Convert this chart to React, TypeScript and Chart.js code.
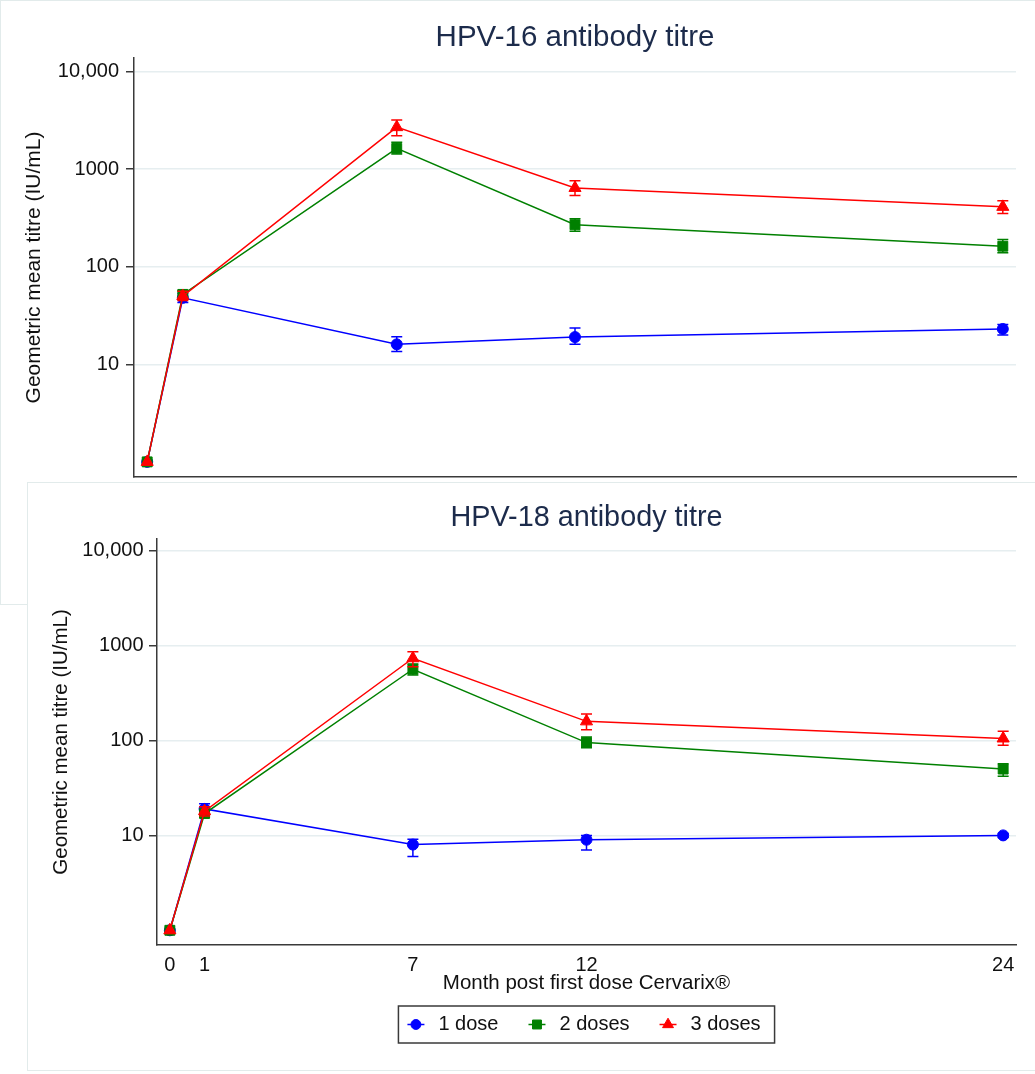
import React, { useEffect, useRef } from 'react';
import { Chart, registerables } from 'chart.js';

Chart.register(...registerables);

// ---------------- data ----------------
const months = [0, 1, 7, 12, 24];
const xTickValues = [0, 1, 7, 12, 24];
const yTickValues = [10, 100, 1000, 10000];
const yTickLabels = ['10', '100', '1000', '10,000'];
const seriesLabels = ['1 dose', '2 doses', '3 doses'];
const xAxisTitle = 'Month post first dose Cervarix®';
const yAxisTitle = 'Geometric mean titre (IU/mL)';

// HPV-16
const hpv16Title = 'HPV-16 antibody titre';
const hpv16OneDose = [1, 48, 16, 19, 23];
const hpv16OneDoseLow = [1, 43, 13.5, 16, 20];
const hpv16OneDoseHigh = [1, 53, 19.2, 23.5, 25.5];
const hpv16TwoDoses = [1, 52, 1630, 269, 162];
const hpv16TwoDosesLow = [1, 47, 1430, 231, 139];
const hpv16TwoDosesHigh = [1, 57, 1880, 309, 190];
const hpv16ThreeDoses = [1, 50, 2690, 641, 410];
const hpv16ThreeDosesLow = [1, 45, 2190, 535, 350];
const hpv16ThreeDosesHigh = [1, 56, 3190, 760, 475];

// HPV-18
const hpv18Title = 'HPV-18 antibody titre';
const hpv18OneDose = [1, 19, 8, 9, 10];
const hpv18OneDoseLow = [1, 17, 6, 7, 9.5];
const hpv18OneDoseHigh = [1, 21.5, 9.1, 10, 10.5];
const hpv18TwoDoses = [1, 17, 563, 95, 50];
const hpv18TwoDosesLow = [1, 15.5, 490, 84, 42];
const hpv18TwoDosesHigh = [1, 18.5, 640, 109, 57];
const hpv18ThreeDoses = [1, 18, 735, 159, 105];
const hpv18ThreeDosesLow = [1, 16, 600, 130, 89];
const hpv18ThreeDosesHigh = [1, 20, 860, 190, 125];

// ---------------- styles ----------------
const FONT = '"Liberation Sans", Arial, Helvetica, sans-serif';
const seriesColors = ['#0000ff', '#008000', '#ff0000'];
const seriesShapes = ['circle', 'rect', 'triangle'];
const seriesPointRadius = [5.5, 7, 7];
const AXIS = '#3a3a3a';
const GRID = '#e6eef0';
const TEXT = '#111111';
const TITLE = '#1c2b4b';
const PANEL_BORDER = '#e2ebeb';

function drawMarker(ctx: CanvasRenderingContext2D, style: string, x: number, y: number, r: number, color: string) {
  ctx.save();
  ctx.fillStyle = color;
  ctx.strokeStyle = color;
  ctx.lineWidth = 1;
  ctx.beginPath();
  if (style === 'circle') {
    ctx.arc(x, y, r, 0, Math.PI * 2);
  } else if (style === 'rect') {
    const s = r * Math.SQRT1_2;
    ctx.rect(x - s, y - s, 2 * s, 2 * s);
  } else {
    for (let k = 0; k < 3; k++) {
      const a = (k * 2 * Math.PI) / 3;
      const px = x + Math.sin(a) * r;
      const py = y - Math.cos(a) * r;
      if (k === 0) ctx.moveTo(px, py);
      else ctx.lineTo(px, py);
    }
    ctx.closePath();
  }
  ctx.fill();
  ctx.stroke();
  ctx.restore();
}

const errorBarPlugin = {
  id: 'errorBars',
  afterDatasetDraw(chart: any, args: any) {
    const ds = chart.data.datasets[args.index];
    if (!ds.errLow) return;
    const xs = chart.scales.x;
    const ys = chart.scales.y;
    const ctx = chart.ctx as CanvasRenderingContext2D;
    ctx.save();
    ctx.strokeStyle = ds.borderColor;
    ctx.lineWidth = 1.5;
    const cap = 5.5;
    ds.data.forEach((p: any, i: number) => {
      const lo = ds.errLow[i];
      const hi = ds.errHigh[i];
      if (lo === hi) return;
      const x = xs.getPixelForValue(p.x);
      const y1 = ys.getPixelForValue(lo);
      const y2 = ys.getPixelForValue(hi);
      ctx.beginPath();
      ctx.moveTo(x, y1);
      ctx.lineTo(x, y2);
      ctx.moveTo(x - cap, y1);
      ctx.lineTo(x + cap, y1);
      ctx.moveTo(x - cap, y2);
      ctx.lineTo(x + cap, y2);
      ctx.stroke();
    });
    ctx.restore();
  },
};

const boxLegendPlugin = {
  id: 'boxLegend',
  afterDraw(chart: any, _args: any, opts: any) {
    if (!opts || !opts.display) return;
    const ctx = chart.ctx as CanvasRenderingContext2D;
    const ca = chart.chartArea;
    const xs = chart.scales.x;
    const ds = chart.data.datasets;
    ctx.save();
    ctx.font = `20px ${FONT}`;
    const lineLen = 17;
    const textGap = 14;
    const itemGap = 30;
    const padL = 9;
    const padR = 14;
    const boxH = 37;
    const widths = ds.map((d: any) => ctx.measureText(d.label).width);
    const total =
      padL + padR + widths.reduce((a: number, w: number) => a + w + lineLen + textGap, 0) + itemGap * (ds.length - 1);
    const left = (ca.left + ca.right) / 2 - total / 2;
    const top = xs.bottom + 1;
    ctx.fillStyle = '#ffffff';
    ctx.fillRect(left, top, total, boxH);
    ctx.strokeStyle = AXIS;
    ctx.lineWidth = 1.5;
    ctx.strokeRect(left, top, total, boxH);
    const cy = top + boxH / 2;
    let x = left + padL;
    ds.forEach((d: any, i: number) => {
      ctx.strokeStyle = d.borderColor;
      ctx.lineWidth = 1.5;
      ctx.beginPath();
      ctx.moveTo(x, cy);
      ctx.lineTo(x + lineLen, cy);
      ctx.stroke();
      drawMarker(ctx, d.pointStyle, x + lineLen / 2, cy, d.pointRadius * 0.9, d.borderColor);
      ctx.fillStyle = TEXT;
      ctx.textBaseline = 'middle';
      ctx.textAlign = 'left';
      ctx.fillText(d.label, x + lineLen + textGap, cy);
      x += lineLen + textGap + widths[i] + itemGap;
    });
    ctx.restore();
  },
};

type PanelSpec = {
  title: string;
  titleSize: number;
  yTitleSize: number;
  yTickPadding: number;
  values: number[][];
  lows: number[][];
  highs: number[][];
  width: number;
  height: number;
  yMin: number;
  yMax: number;
  yWidth: number;
  xHeight: number;
  padRight: number;
  padBottom: number;
  titleTop: number;
  titleBottom: number;
  showX: boolean;
  legend: boolean;
};

function buildConfig(p: PanelSpec): any {
  const datasets = p.values.map((vals, s) => ({
    label: seriesLabels[s],
    data: vals.map((v, i) => ({ x: months[i], y: v })),
    errLow: p.lows[s],
    errHigh: p.highs[s],
    borderColor: seriesColors[s],
    backgroundColor: seriesColors[s],
    pointBackgroundColor: seriesColors[s],
    pointBorderColor: seriesColors[s],
    pointStyle: seriesShapes[s],
    pointRadius: seriesPointRadius[s],
    pointBorderWidth: 1,
    borderWidth: 1.5,
    tension: 0,
    order: 3 - s,
  }));
  const titleLine = p.titleSize * 1.2;
  return {
    type: 'line',
    data: { datasets },
    options: {
      animation: false,
      responsive: false,
      events: [],
      layout: { padding: { left: 0, right: p.padRight, top: 0, bottom: p.padBottom } },
      plugins: {
        legend: { display: false },
        tooltip: { enabled: false },
        title: {
          display: true,
          text: p.title,
          fullSize: false,
          color: TITLE,
          font: { family: FONT, size: p.titleSize, weight: 'normal' },
          padding: { top: p.titleTop - titleLine / 2, bottom: p.titleBottom - (p.titleTop + titleLine / 2) },
        },
        boxLegend: { display: p.legend },
      },
      scales: {
        x: {
          type: 'linear',
          min: -0.37,
          max: 24.37,
          afterBuildTicks: (s: any) => {
            s.ticks = xTickValues.map((v) => ({ value: v }));
          },
          afterFit: (s: any) => {
            s.height = p.xHeight;
          },
          ticks: {
            display: p.showX,
            autoSkip: false,
            maxRotation: 0,
            padding: 0,
            color: TEXT,
            font: { family: FONT, size: 20 },
            callback: (v: any) => String(v),
          },
          grid: { display: false },
          border: { display: true, color: AXIS, width: 1.5 },
          title: {
            display: p.showX,
            text: xAxisTitle,
            color: TEXT,
            font: { family: FONT, size: 20.5 },
            padding: { top: 0, bottom: 9 },
          },
        },
        y: {
          type: 'logarithmic',
          min: p.yMin,
          max: p.yMax,
          afterBuildTicks: (s: any) => {
            s.ticks = yTickValues.map((v) => ({ value: v }));
          },
          afterFit: (s: any) => {
            s.width = p.yWidth;
          },
          ticks: {
            autoSkip: false,
            padding: p.yTickPadding,
            color: TEXT,
            font: { family: FONT, size: 20 },
            callback: (_v: any, i: number) => yTickLabels[i],
          },
          grid: {
            color: GRID,
            lineWidth: 1.5,
            drawTicks: true,
            tickLength: 8,
            tickColor: AXIS,
            tickWidth: 1.5,
          },
          border: { display: true, color: AXIS, width: 1.5 },
          title: {
            display: true,
            text: yAxisTitle,
            color: TEXT,
            font: { family: FONT, size: p.yTitleSize },
            padding: { top: 33 - (p.yTitleSize * 1.2) / 2, bottom: 0 },
          },
        },
      },
    },
    plugins: [errorBarPlugin, boxLegendPlugin],
  };
}

// titleTop = centre of the title line (canvas px); titleBottom = top of the plot area
const topSpec: PanelSpec = {
  title: hpv16Title,
  titleSize: 29.5,
  yTitleSize: 21,
  yTickPadding: 7,
  values: [hpv16OneDose, hpv16TwoDoses, hpv16ThreeDoses],
  lows: [hpv16OneDoseLow, hpv16TwoDosesLow, hpv16ThreeDosesLow],
  highs: [hpv16OneDoseHigh, hpv16TwoDosesHigh, hpv16ThreeDosesHigh],
  width: 1034,
  height: 603,
  yMin: 0.736,
  yMax: 13740,
  yWidth: 133,
  xHeight: 0,
  padRight: 19,
  padBottom: 127,
  titleTop: 37,
  titleBottom: 57,
  showX: false,
  legend: false,
};

const bottomSpec: PanelSpec = {
  title: hpv18Title,
  titleSize: 28.8,
  yTitleSize: 20.5,
  yTickPadding: 5.5,
  values: [hpv18OneDose, hpv18TwoDoses, hpv18ThreeDoses],
  lows: [hpv18OneDoseLow, hpv18TwoDosesLow, hpv18ThreeDosesLow],
  highs: [hpv18OneDoseHigh, hpv18TwoDosesHigh, hpv18ThreeDosesHigh],
  width: 1007,
  height: 587,
  yMin: 0.731,
  yMax: 13270,
  yWidth: 129,
  xHeight: 60,
  padRight: 19,
  padBottom: 65,
  titleTop: 35,
  titleBottom: 56,
  showX: true,
  legend: true,
};

function Panel({ spec, style }: { spec: PanelSpec; style: React.CSSProperties }) {
  const ref = useRef<HTMLCanvasElement>(null);
  useEffect(() => {
    if (!ref.current) return;
    const chart = new Chart(ref.current, buildConfig(spec));
    return () => chart.destroy();
  }, [spec]);
  return (
    <div style={style}>
      <canvas
        ref={ref}
        width={spec.width}
        height={spec.height}
        style={{ display: 'block', width: spec.width, height: spec.height }}
      />
    </div>
  );
}

export default function App() {
  return (
    <div>
      <Panel
        spec={topSpec}
        style={{
          position: 'absolute',
          left: 0,
          top: 0,
          width: topSpec.width,
          height: topSpec.height,
          borderLeft: `1px solid ${PANEL_BORDER}`,
          borderTop: `1px solid ${PANEL_BORDER}`,
          borderBottom: `1px solid ${PANEL_BORDER}`,
          background: '#ffffff',
        }}
      />
      <Panel
        spec={bottomSpec}
        style={{
          position: 'absolute',
          left: 27,
          top: 482,
          width: bottomSpec.width,
          height: bottomSpec.height,
          borderLeft: `1px solid ${PANEL_BORDER}`,
          borderTop: `1px solid ${PANEL_BORDER}`,
          borderBottom: `1px solid ${PANEL_BORDER}`,
          background: '#ffffff',
        }}
      />
    </div>
  );
}
